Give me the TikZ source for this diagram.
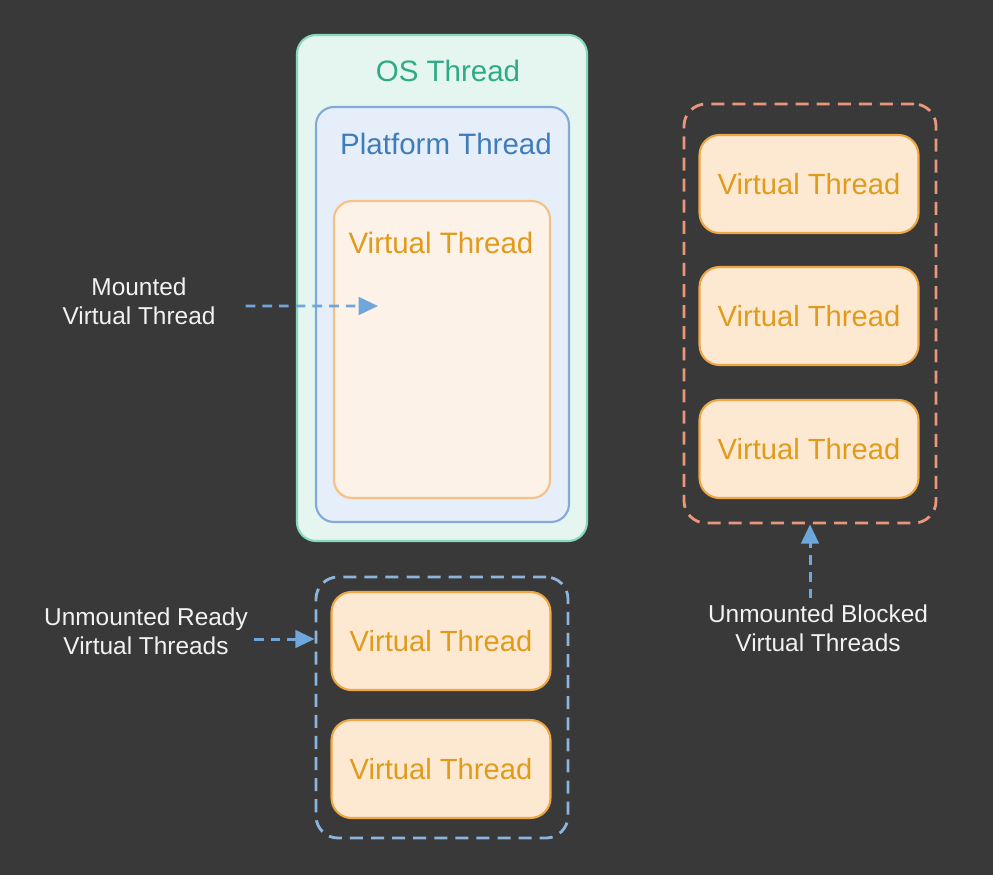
\documentclass[tikz,border=0pt]{standalone}
\usepackage{fontspec}
\setmainfont{Liberation Sans}
\usetikzlibrary{arrows.meta,fit}

\definecolor{bgdark}{HTML}{393939}
\definecolor{osfill}{HTML}{E4F6EF}
\definecolor{osline}{HTML}{86D9BC}
\definecolor{ostext}{HTML}{2FAA86}
\definecolor{platfill}{HTML}{E6EEFA}
\definecolor{platline}{HTML}{84A9D9}
\definecolor{plattext}{HTML}{3F7DBA}
\definecolor{mvtfill}{HTML}{FDF2E8}
\definecolor{mvtline}{HTML}{F4C286}
\definecolor{vtfill}{HTML}{FDE9D2}
\definecolor{vtline}{HTML}{EFA647}
\definecolor{vttext}{HTML}{E09B1C}
\definecolor{readyline}{HTML}{8DB4DD}
\definecolor{blockline}{HTML}{E8977C}
\definecolor{arrowblue}{HTML}{6FA6DB}
\definecolor{lbltext}{HTML}{F2F2F2}

\tikzset{
  bigbox/.style={inner sep=0pt, line width=1.2pt, rounded corners=0.38cm},
  title/.style={font=\fontsize{16.8}{20}\selectfont},
  vtbox/.style={draw=vtline, fill=vtfill, line width=1.2pt, rounded corners=0.4cm,
    minimum width=4.38cm, minimum height=1.96cm, text=vttext,
    font=\fontsize{16.6}{20}\selectfont},
  groupbox/.style={bigbox, line width=1.6pt, dash pattern=on 7.4pt off 4.6pt,
    rounded corners=0.44cm},
  lbl/.style={text=lbltext, align=center, font=\fontsize{13.9}{16.6}\selectfont},
  callout/.style={arrowblue, line width=1.7pt, dash pattern=on 5.5pt off 4pt,
    -{Triangle[length=11pt, width=10pt]}}
}

\begin{document}
\begin{tikzpicture}[x=0.02cm, y=-0.02cm]
  % background and page size
  \fill[bgdark] (0,0) rectangle (993,875);
  \useasboundingbox (0,0) rectangle (993,875);

  % mounted thread stack
  \node[bigbox, draw=osline, fill=osfill, fit={(297,35) (587,541)}] (os) {};
  \node[bigbox, draw=platline, fill=platfill, rounded corners=0.36cm,
    fit={(316,107) (569,522)}] (plat) {};
  \node[bigbox, draw=mvtline, fill=mvtfill, rounded corners=0.36cm,
    fit={(334,201) (550,498)}] (mvt) {};
  \node[title, text=ostext] (ostitle) at (448,71) {OS Thread};
  \node[title, text=plattext] (plattitle) at (446,144) {Platform Thread};
  \node[title, text=vttext] (mvttitle) at (441,243) {Virtual Thread};

  % ready queue
  \node[groupbox, draw=readyline, fit={(316,577) (568,838)}] (ready) {};
  \node[vtbox] (ready1) at (441,641) {Virtual Thread};
  \node[vtbox] (ready2) at (441,769) {Virtual Thread};

  % blocked threads
  \node[groupbox, draw=blockline, fit={(684,104) (936,523)}] (blocked) {};
  \node[vtbox] (blocked1) at (809,184) {Virtual Thread};
  \node[vtbox] (blocked2) at (809,316) {Virtual Thread};
  \node[vtbox] (blocked3) at (809,449) {Virtual Thread};

  % labels
  \node[lbl] (mlbl) at (139,301) {Mounted\\Virtual Thread};
  \node[lbl] (rlbl) at (146,631) {Unmounted Ready\\Virtual Threads};
  \node[lbl] (blbl) at (818,628) {Unmounted Blocked\\Virtual Threads};

  \coordinate (mtip) at (378,306);
  \draw[callout, shorten <=0.48cm] ([yshift=-0.1cm]mlbl.east) -- (mtip);
  \draw[callout] ([yshift=-0.16cm]rlbl.east) -- ([yshift=-0.16cm]rlbl.east -| ready.west);
  \draw[callout] (blbl.north -| blocked.south) -- (blocked.south);
\end{tikzpicture}
\end{document}
